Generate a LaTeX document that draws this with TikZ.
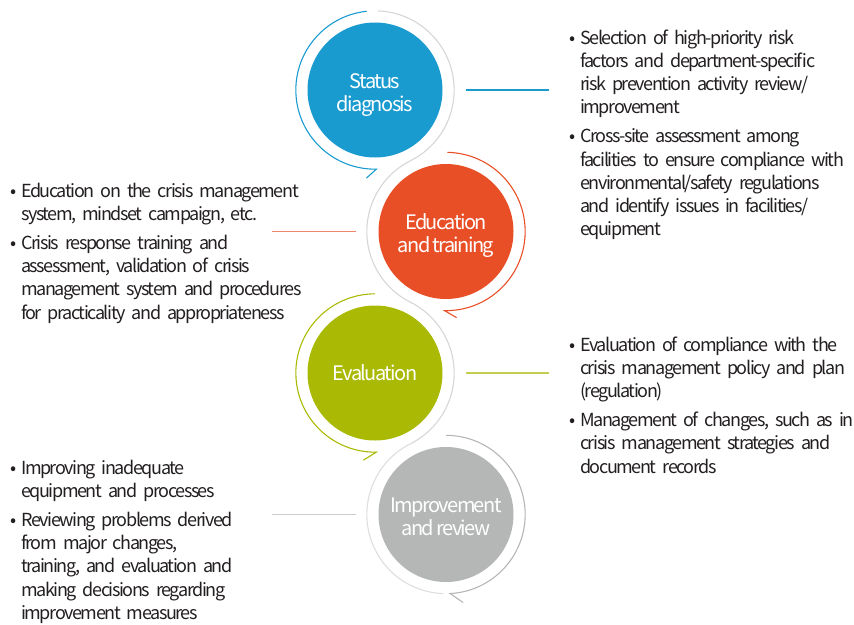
\documentclass[tikz,border=0pt]{standalone}
\usepackage{fontspec}
\setmainfont{Noto Sans CJK KR}[LetterSpace=-8, WordSpace=0.75]
\usetikzlibrary{calc}

\definecolor{cblue}{HTML}{1A9BD0}
\definecolor{corange}{HTML}{E94F27}
\definecolor{cgreen}{HTML}{AABA04}
\definecolor{cgray}{HTML}{B5B6B6}
\definecolor{ringgray}{HTML}{D6D6D6}
\definecolor{bodytext}{HTML}{231F20}

\newcommand\bullitem[1]{\par\hyphenpenalty=10000\relax\hangindent=11pt\hangafter=1\noindent\makebox[11pt][l]{\textbullet}#1}
\newcommand\disklabel[2]{\raisebox{#1}[\height][\depth]{\begin{tabular}{@{}c@{}}#2\end{tabular}}}

\tikzset{
  disk/.style={circle, minimum size=135pt, inner sep=0pt, text=white,
    font=\fontsize{20}{23}\selectfont},
  ring/.style={line width=1.1pt, ringgray},
  cycle arc/.style={line width=1.1pt},
  lead/.style={line width=1.2pt},
  block/.style={anchor=north west, inner sep=0pt, text width=340pt, text=bodytext,
    font=\fontsize{18}{23.3}\selectfont\setlength{\parskip}{5.5pt}\raggedright\frenchspacing}
}

\begin{document}
\begin{tikzpicture}[x=1pt, y=-1pt]
\useasboundingbox (0,0) rectangle (854,624);

% stage discs
\node[disk, fill=cblue]   (c1) at (375,90)    {\disklabel{-5pt}{Status\\diagnosis}};
\node[disk, fill=corange] (c2) at (446,231.5) {\disklabel{-5pt}{Education\\and training}};
\node[disk, fill=cgreen]  (c3) at (375,373)   {\disklabel{-3pt}{Evaluation}};
\node[disk, fill=cgray]   (c4) at (446,514.5) {\disklabel{-5pt}{Improvement\\and review}};

% thin grey serpentine linking the outer rings
\draw[ring] (c1.center) ++(-88:79.16)
  arc[start angle=-88, end angle=63.36, radius=79.16]
  arc[start angle=-116.64, end angle=-243.36, radius=79.16]
  arc[start angle=-63.36, end angle=63.36, radius=79.16];
\draw[ring, color=ringgray!80] (c4.center) ++(-116.64:79.16)
  arc[start angle=-116.64, end angle=-268, radius=79.16];

% coloured half rings with a barb at the end
\draw[cycle arc, cblue] (c1.center) ++(-96:79.16)
  arc[start angle=-96, end angle=-271, radius=79.16] -- ++(-10,9);
\draw[cycle arc, corange] (c2.center) ++(-89:79.16)
  arc[start angle=-89, end angle=91, radius=79.16] -- ++(12,7);
\draw[cycle arc, cgreen] (c3.center) ++(-90:79.16)
  arc[start angle=-90, end angle=-271, radius=79.16] -- ++(-13,8);
\draw[cycle arc, cgray] (c4.center) ++(-90:79.16)
  arc[start angle=-90, end angle=87, radius=79.16] -- ++(13,9);

% leader lines
\coordinate (a1) at (466,90);    \coordinate (b1) at (549,90);
\coordinate (a2) at (356,231.5); \coordinate (b2) at (272,231.5);
\coordinate (a3) at (466,373);   \coordinate (b3) at (549,373);
\coordinate (a4) at (356,514.5); \coordinate (b4) at (272,514.5);
\draw[lead, cblue]          (a1) -- (b1);
\draw[lead, corange!70]     (a2) -- (b2);
\draw[lead, cgreen!70]      (a3) -- (b3);
\draw[lead, cgray!70]       (a4) -- (b4);

% descriptions
\node[block] (d1) at (569,15) {%
  \bullitem{Selection of high-priority risk\newline factors and department-specific\newline risk prevention activity review/\newline improvement}
  \bullitem{Cross-site assessment among\newline facilities to ensure compliance with\newline environmental/safety regulations\newline and identify issues in facilities/\newline equipment}\par};
\node[block] (d2) at (10,168) {%
  \bullitem{Education on the crisis management\newline system, mindset campaign, etc.}
  \bullitem{Crisis response training and\newline assessment, validation of crisis\newline management system and procedures\newline for practicality and appropriateness}\par};
\node[block] (d3) at (569,322) {%
  \bullitem{Evaluation of compliance with the\newline crisis management policy and plan\newline (regulation)}
  \bullitem{Management of changes, such as in\newline crisis management strategies and\newline document records}\par};
\node[block] (d4) at (10,445) {%
  \bullitem{Improving inadequate\newline equipment and processes}
  \bullitem{Reviewing problems derived\newline from major changes,\newline training, and evaluation and\newline making decisions regarding\newline improvement measures}\par};
\end{tikzpicture}
\end{document}
